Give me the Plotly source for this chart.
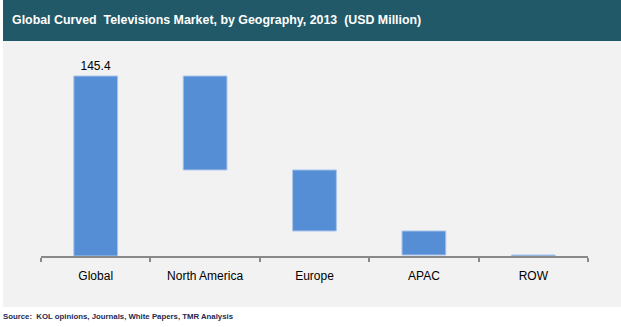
import plotly.graph_objects as go

categories = ["Global", "North America", "Europe", "APAC", "ROW"]
measures = ["absolute", "relative", "relative", "relative", "relative"]
values = [145.4, -75.9, -49.3, -19.4, -0.8]
labels = ["145.4", "", "", "", ""]

title_text = "Global Curved  Televisions Market, by Geography, 2013  (USD Million)"
source_text = "Source:  KOL opinions, Journals, White Papers, TMR Analysis"

W, H = 621, 327
L, R, T, B = 41, 33, 50, 71
pw = W - L - R
ph = H - T - B

def px_x(x):
    return (x - L) / pw

def px_y(y):
    return (H - B - y) / ph

bar_color = "#558ED5"
edge = "#A9C4EA"
font_main = "Arial, Liberation Sans"

fig = go.Figure(go.Waterfall(
    x=categories,
    y=values,
    measure=measures,
    text=labels,
    textposition="outside",
    textfont=dict(family=font_main, size=12, color="#000000"),
    connector=dict(visible=False),
    increasing=dict(marker=dict(color=bar_color, line=dict(color=edge, width=1))),
    decreasing=dict(marker=dict(color=bar_color, line=dict(color=edge, width=1))),
    totals=dict(marker=dict(color=bar_color, line=dict(color=edge, width=1))),
    width=0.4,
    cliponaxis=False,
    hoverinfo="skip",
))

fig.update_layout(
    width=W, height=H,
    margin=dict(l=L, r=R, t=T, b=B),
    paper_bgcolor="#FFFFFF",
    plot_bgcolor="rgba(0,0,0,0)",
    showlegend=False,
    font=dict(family=font_main, color="#000000"),
    xaxis=dict(
        type="category",
        showline=True, linecolor="#898989", linewidth=1.5,
        ticks="outside", tickson="boundaries", ticklen=4, tickcolor="#898989", tickwidth=1.5,
        showgrid=False, zeroline=False,
        tickfont=dict(family=font_main, size=12, color="#000000"),
        ticklabelstandoff=8,
        fixedrange=True,
    ),
    yaxis=dict(range=[0, 166.4], visible=False, showgrid=False, zeroline=False, fixedrange=True),
    shapes=[
        dict(type="rect", xref="paper", yref="paper", layer="below",
             x0=px_x(3), x1=px_x(621), y0=px_y(41), y1=px_y(0),
             fillcolor="#215968", line=dict(width=0)),
        dict(type="rect", xref="paper", yref="paper", layer="below",
             x0=px_x(3), x1=px_x(621), y0=px_y(307), y1=px_y(41),
             fillcolor="#F2F2F2", line=dict(width=0)),
    ],
    annotations=[
        dict(text="<b>" + title_text + "</b>", xref="paper", yref="paper",
             x=px_x(10), y=px_y(20), xanchor="left", yanchor="middle",
             showarrow=False, font=dict(family=font_main, size=12.4, color="#FFFFFF")),
        dict(text="<b>" + source_text + "</b>", xref="paper", yref="paper",
             x=px_x(1), y=px_y(316), xanchor="left", yanchor="middle",
             showarrow=False, font=dict(family=font_main, size=7.8, color="#1F2A4F")),
    ],
)

fig.write_html("out.html")
